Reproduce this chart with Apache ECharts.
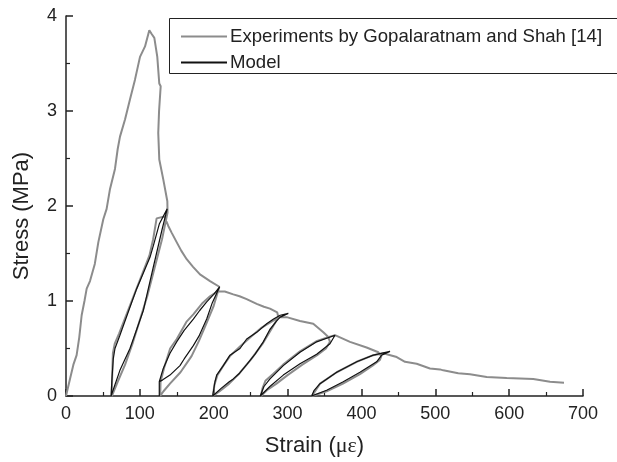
<!DOCTYPE html>
<html><head><meta charset="utf-8">
<script src="https://cdn.jsdelivr.net/npm/echarts@6/dist/echarts.min.js"></script>
<style>html,body{margin:0;padding:0;background:#fff}#c{width:617px;height:462px}</style>
</head><body><div id="c"></div>
<script>
// Experimental curve (strain με, stress MPa), including unload/reload loops
const expStrain = [0,5.4,10,14.4,18,21.2,25,28,32.5,39,43.8,50.5,55,59.6,66.3,70,73.1,79.9,86.6,93.4,100.2,107,112.8,116,119.6,123.6,126.3,128.2,126,124.9,126.3,131.7,137.2,137.5,
 130,120,110,100,90,80,70,62,
 62.5,63.5,66,72,85,95,105,113,118,122.7,133.1,138.5,
 143,149.8,156,163.4,172,181.4,195,207.6,
 200,191,180,170,155,140.8,132,127.6,
 128,133,141,150,163,172.4,185,195,205,207.6,
 215,226.5,235,244.6,258.2,268,276.2,286,287.5,
 280,267,250,235,221,208,199,
 201,205,213,222,235.6,250,265,280,287.5,
 298.8,316.8,334.8,348.4,355.2,357.4,
 352,340,320,300,285,272,264,
 266,270,272,280,294,316.8,340,355,364.2,
 384.5,407,422.9,427,
 425,415,398,375,352.9,333,
 344,366.5,393.6,416,430,
 434.2,447.8,459,474.8,492.8,506.4,510.8,531.1,547,569.6,596.7,632.7,655.3,674.3];
const expStress = [0,0.18,0.33,0.43,0.62,0.85,1.0,1.13,1.21,1.39,1.62,1.86,1.97,2.18,2.39,2.6,2.73,2.91,3.12,3.33,3.57,3.68,3.85,3.81,3.77,3.57,3.29,3.26,3.0,2.77,2.49,2.28,2.05,1.93,
 1.65,1.35,1.05,0.8,0.55,0.33,0.15,0,
 0.2,0.45,0.55,0.66,0.92,1.12,1.32,1.48,1.65,1.87,1.89,1.79,
 1.72,1.62,1.53,1.44,1.36,1.28,1.21,1.15,
 0.95,0.78,0.58,0.42,0.25,0.13,0.05,0,
 0.15,0.3,0.5,0.6,0.78,0.86,0.98,1.05,1.1,1.12,
 1.1,1.07,1.05,1.02,0.97,0.94,0.92,0.88,0.83,
 0.73,0.56,0.38,0.24,0.13,0.05,0,
 0.12,0.22,0.32,0.42,0.52,0.62,0.72,0.79,0.83,
 0.83,0.79,0.76,0.67,0.62,0.57,
 0.5,0.43,0.33,0.22,0.13,0.06,0,
 0.08,0.16,0.17,0.23,0.33,0.47,0.58,0.62,0.64,
 0.57,0.51,0.46,0.42,
 0.38,0.32,0.23,0.13,0.05,0,
 0.13,0.25,0.36,0.43,0.45,
 0.44,0.41,0.36,0.34,0.29,0.28,0.27,0.24,0.23,0.2,0.19,0.18,0.15,0.14];

// Model loops (strain, stress)
const model1Strain = [61,62,64,66.3,73,85,95.7,105,113.7,118.2,126.3,137,130,124,118,110,104.7,95.7,86.6,73,61];
const model1Stress = [0,0.15,0.39,0.5,0.64,0.9,1.13,1.3,1.46,1.58,1.81,1.97,1.75,1.55,1.35,1.08,0.9,0.7,0.5,0.27,0];
const model2Strain = [126.3,126.3,131.7,140.8,149.8,160,172.4,181,190.5,200,208,206.1,198,190.5,180,172.4,160,154.3,140.8,131,126.3];
const model2Stress = [0,0.15,0.29,0.45,0.57,0.69,0.81,0.9,0.99,1.07,1.15,1.14,0.98,0.81,0.63,0.53,0.39,0.32,0.22,0.17,0.15];
const model3Strain = [198.6,201.7,204,213,222,235.6,244.6,258.2,271.7,281,290,301,290,285.3,276,267.1,256,244.6,235,226.5,221,210,198.6];
const model3Stress = [0,0.15,0.22,0.32,0.43,0.5,0.6,0.67,0.76,0.81,0.85,0.87,0.83,0.79,0.7,0.57,0.44,0.33,0.24,0.18,0.15,0.08,0];
const model4Strain = [263,268,276.2,294.2,316.8,339.4,364.2,357.4,339.4,316.8,294.2,276,263];
const model4Stress = [0,0.1,0.18,0.32,0.46,0.57,0.64,0.55,0.44,0.34,0.22,0.1,0];
const model5Strain = [332.6,336,343.9,366.5,393.6,416.1,438.7,427.4,420.6,398,375.4,352.9,332.6];
const model5Stress = [0,0.06,0.13,0.25,0.36,0.43,0.47,0.43,0.36,0.25,0.15,0.06,0];

const xTicks = [0,100,200,300,400,500,600,700];
const yTicks = [0,1,2,3,4];

const zip = (a,b) => a.map((v,i)=>[v,b[i]]);
const FONT = 'Liberation Sans, Arial, sans-serif';
const expName = 'Experiments by Gopalaratnam and Shah [14]';
const modelStyle = {color:'#111', width:1.2};
const models = [[model1Strain,model1Stress],[model2Strain,model2Stress],[model3Strain,model3Stress],[model4Strain,model4Stress],[model5Strain,model5Stress]];

const chart = echarts.init(document.getElementById('c'), null, {renderer:'canvas'});
chart.setOption({
  animation:false,
  backgroundColor:'#fff',
  grid:{left:66, right:34, top:16, bottom:65, containLabel:false},
  graphic:[{type:'rect', left:169, top:18, shape:{width:470, height:55}, style:{fill:'#fff', stroke:'#222', lineWidth:1}, z:1}],
  legend:{
    data:[{name:expName, icon:'rect', itemStyle:{color:'#8c8c8c'}},{name:'Model', icon:'rect', itemStyle:{color:'#111'}}],
    orient:'vertical', left:176, top:22, itemWidth:46, itemHeight:2, itemGap:7,
    textStyle:{fontFamily:FONT, fontSize:18.6, color:'#222', padding:[0,0,0,-2]}, z:5
  },
  xAxis:{
    type:'value', min:0, max:700, interval:100,
    name:'Strain ({g|\u03bc\u03b5})', nameLocation:'middle', nameGap:39,
    nameTextStyle:{fontFamily:FONT, fontSize:22, color:'#222', padding:[0,20,0,0], rich:{g:{fontFamily:'Liberation Serif, Times New Roman, serif', fontSize:22, color:'#222'}}},
    axisLine:{lineStyle:{color:'#222', width:1.5}},
    axisTick:{inside:true, length:7, lineStyle:{color:'#222', width:1.5}},
    minorTick:{show:true, splitNumber:2, length:4, lineStyle:{color:'#222', width:1.2}},
    axisLabel:{fontFamily:FONT, fontSize:18, color:'#222', margin:9, formatter:v=>xTicks.includes(v)?String(v):''},
    splitLine:{show:false}
  },
  yAxis:{
    type:'value', min:0, max:4, interval:1,
    name:'Stress (MPa)', nameLocation:'middle', nameGap:33,
    nameTextStyle:{fontFamily:FONT, fontSize:22, color:'#222', padding:[0,20,0,0]},
    axisLine:{show:true, lineStyle:{color:'#222', width:1.5}},
    axisTick:{show:true, inside:true, length:7, lineStyle:{color:'#222', width:1.5}},
    minorTick:{show:true, splitNumber:2, length:4, lineStyle:{color:'#222', width:1.2}},
    axisLabel:{fontFamily:FONT, fontSize:18, color:'#222', margin:9, formatter:v=>yTicks.includes(v)?String(v):''},
    splitLine:{show:false}
  },
  series:[
    {name:expName, type:'line', data:zip(expStrain,expStress), symbol:'none', smooth:false,
     lineStyle:{color:'#8c8c8c', width:2}, itemStyle:{color:'#8c8c8c'}, z:2},
    ...models.map(m=>({name:'Model', type:'line', data:zip(m[0],m[1]), symbol:'none',
     lineStyle:modelStyle, itemStyle:{color:'#111'}, z:3}))
  ]
});
</script></body></html>
